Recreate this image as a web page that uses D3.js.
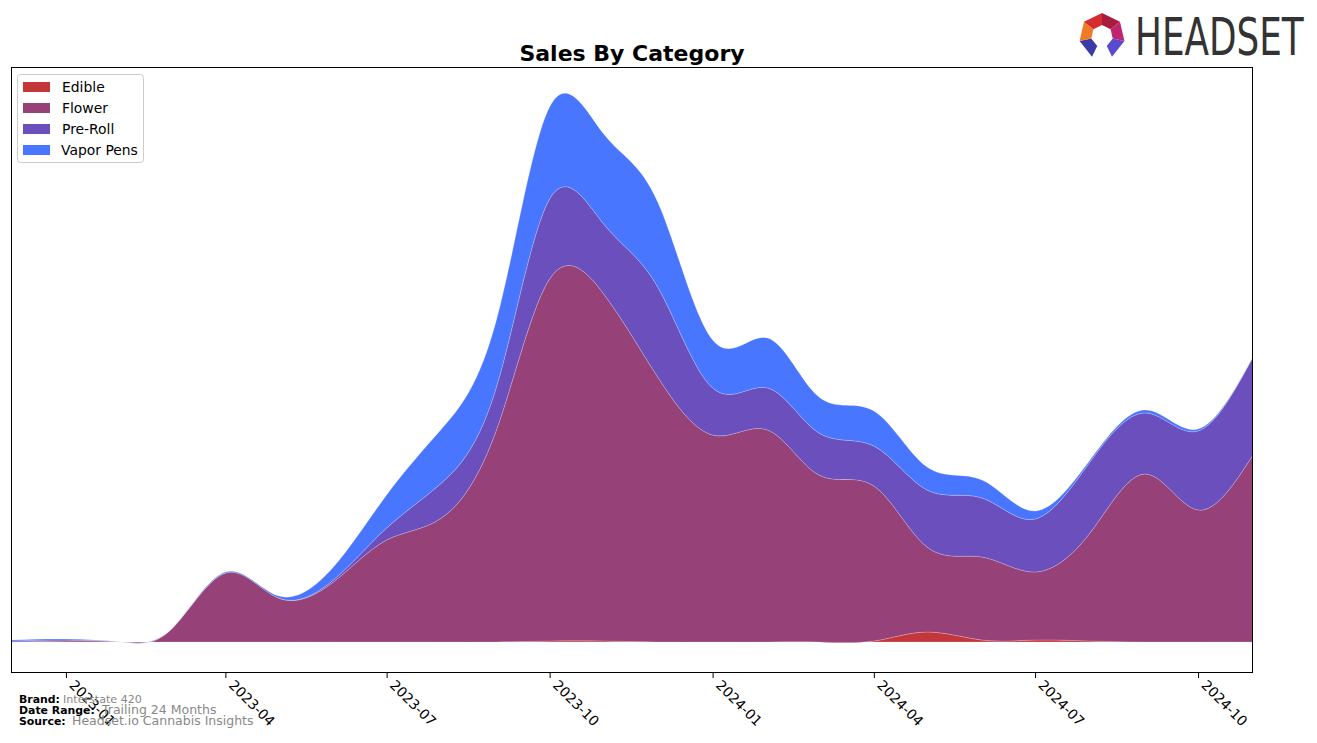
<!DOCTYPE html>
<html>
<head>
<meta charset="utf-8">
<script src="https://cdn.jsdelivr.net/npm/d3@7"></script>
<style>
  html, body { margin: 0; padding: 0; background: #fff; }
  svg { display: block; font-family: "DejaVu Sans", sans-serif; }
</style>
</head>
<body>
<svg id="chart" width="1317" height="743"></svg>
<script>
// ---- data ----
const months = ["2022-12","2023-01","2023-02","2023-03","2023-04","2023-05","2023-06","2023-07","2023-08","2023-09","2023-10","2023-11",
                "2023-12","2024-01","2024-02","2024-03","2024-04","2024-05","2024-06","2024-07","2024-08","2024-09","2024-10","2024-11"];
const categories = ["Edible","Flower","Pre-Roll","Vapor Pens"];
const edible   = [0,0,0,0,0,0,0,0,0,0,1,1,0,0,0,0,1,10,2,2,1,0,0,0];
const flower   = [0,1,0,12,69,44,60,102,124,212,362,346,265,207,212,167,155,85,83,68,108,168,132,187];
const preRoll  = [1,1,0,0,0,0,2,12,35,43,80,70,90,47,42,42,40,57,59,53,71,61,79,98];
const vaporPens= [1,1,0,0,1,2,13,33,54,67,92,90,85,48,50,36,35,23,18,8,2,3,2,0];
const xTickLabels = ["2023-01","2023-04","2023-07","2023-10","2024-01","2024-04","2024-07","2024-10"];
const colors = ["#c4363a","#964178","#6a4fbd","#4876ff"];

const svg = d3.select("#chart");
const plot = {left: 11, right: 1253, top: 67, bottom: 673};
const parse = d3.timeParse("%Y-%m");
const dates = months.map(parse);

const rows = months.map((m, i) => ({date: dates[i], "Edible": edible[i], "Flower": flower[i], "Pre-Roll": preRoll[i], "Vapor Pens": vaporPens[i]}));
const stacked = d3.stack().keys(categories)(rows);

const x = d3.scaleTime().domain([dates[0], dates[dates.length-1]]).range([plot.left, plot.right]);
const y = d3.scaleLinear().domain([-31, 575]).range([plot.bottom, plot.top]);

svg.append("defs").append("clipPath").attr("id","clip")
  .append("rect").attr("x",plot.left).attr("y",plot.top).attr("width",plot.right-plot.left).attr("height",plot.bottom-plot.top);

const area = d3.area()
  .curve(d3.curveNatural)
  .x(d => x(d.data.date))
  .y0(d => y(d[0]))
  .y1(d => y(d[1]));

const g = svg.append("g").attr("clip-path","url(#clip)");
g.selectAll("path.layer").data(stacked).join("path")
  .attr("class","layer")
  .attr("d", area)
  .attr("fill", (d,i) => colors[i])
  .attr("stroke", "rgba(255,255,255,0.25)")
  .attr("stroke-width", 0.8);

// frame
svg.append("rect").attr("x",plot.left+0.5).attr("y",plot.top+0.5)
  .attr("width",plot.right-plot.left-1).attr("height",plot.bottom-plot.top-1)
  .attr("fill","none").attr("stroke","#000").attr("stroke-width",1);

// x axis
const tickDates = xTickLabels.map(parse);
const xAxis = d3.axisBottom(x).tickValues(tickDates).tickFormat(d3.timeFormat("%Y-%m")).tickSize(5).tickSizeOuter(0);
const ax = svg.append("g").attr("transform",`translate(0,${plot.bottom})`).call(xAxis);
ax.select(".domain").remove();
ax.selectAll(".tick line").attr("stroke","#000");
ax.selectAll(".tick text")
  .attr("font-size","13.9px")
  .attr("font-family","DejaVu Sans, sans-serif")
  .attr("fill","#000")
  .attr("text-anchor","start")
  .attr("dy", null)
  .attr("y", 0)
  .attr("transform","translate(2,13) rotate(45)");

// title
svg.append("text").attr("x",632).attr("y",61).attr("text-anchor","middle")
  .attr("font-size","22px").attr("font-weight","bold").text("Sales By Category");

// legend
const lg = svg.append("g");
lg.append("rect").attr("x",17.5).attr("y",74.5).attr("width",126).attr("height",88).attr("rx",3)
  .attr("fill","#fff").attr("fill-opacity",0.8).attr("stroke","#ccc");
categories.forEach((c,i) => {
  const yy = 87 + i*21;
  lg.append("rect").attr("x",23).attr("y",yy-5).attr("width",27).attr("height",10).attr("fill",colors[i]);
  lg.append("text").attr("x", c === "Vapor Pens" ? 61 : 62).attr("y",yy+5).attr("font-size","13.9px").text(c);
});

// footer
const foot = [
  {label:"Brand:", value:"Interstate 420", y:703, vx:63, vs:11.1},
  {label:"Date Range:", value:"Trailing 24 Months", y:714, vx:102, vs:12.5},
  {label:"Source:", value:"Headset.io Cannabis Insights", y:725, vx:72, vs:12.5}
];
foot.forEach(f => {
  svg.append("text").attr("x",19).attr("y",f.y).attr("font-size","10.9px").attr("font-weight","bold").text(f.label);
  svg.append("text").attr("x",f.vx).attr("y",f.y).attr("font-size",f.vs+"px").attr("fill","#888").text(f.value);
});

// logo
const logo = svg.append("g");
const cx = 1102, cy = 36;
const pts = d3.range(7).map(k => { const a = -Math.PI/2 + k*2*Math.PI/7; return [cx + 23*Math.cos(a), cy + 23*Math.sin(a)]; });
const ipts = d3.range(7).map(k => { const a = -Math.PI/2 + k*2*Math.PI/7; return [cx + 11*Math.cos(a), cy + 11*Math.sin(a)]; });
const segCols = ["#a81c3c","#c0246e","#5a4ad0","#3a3aa8","#3a3aa8","#ef7b27","#d62c2f"];
d3.range(7).forEach(k => {
  if (k === 3) return; // opening at bottom
  const k2 = (k+1)%7;
  logo.append("path").attr("d", d3.line()([pts[k],pts[k2],ipts[k2],ipts[k]]) + "Z").attr("fill",segCols[k]);
});
logo.append("text").attr("transform","translate(1135,55) scale(0.765,1)").attr("font-size","52px")
  .attr("font-family","Liberation Sans Narrow, DejaVu Sans Condensed, sans-serif")
  .attr("fill","#333").text("HEADSET");
</script>
</body>
</html>
